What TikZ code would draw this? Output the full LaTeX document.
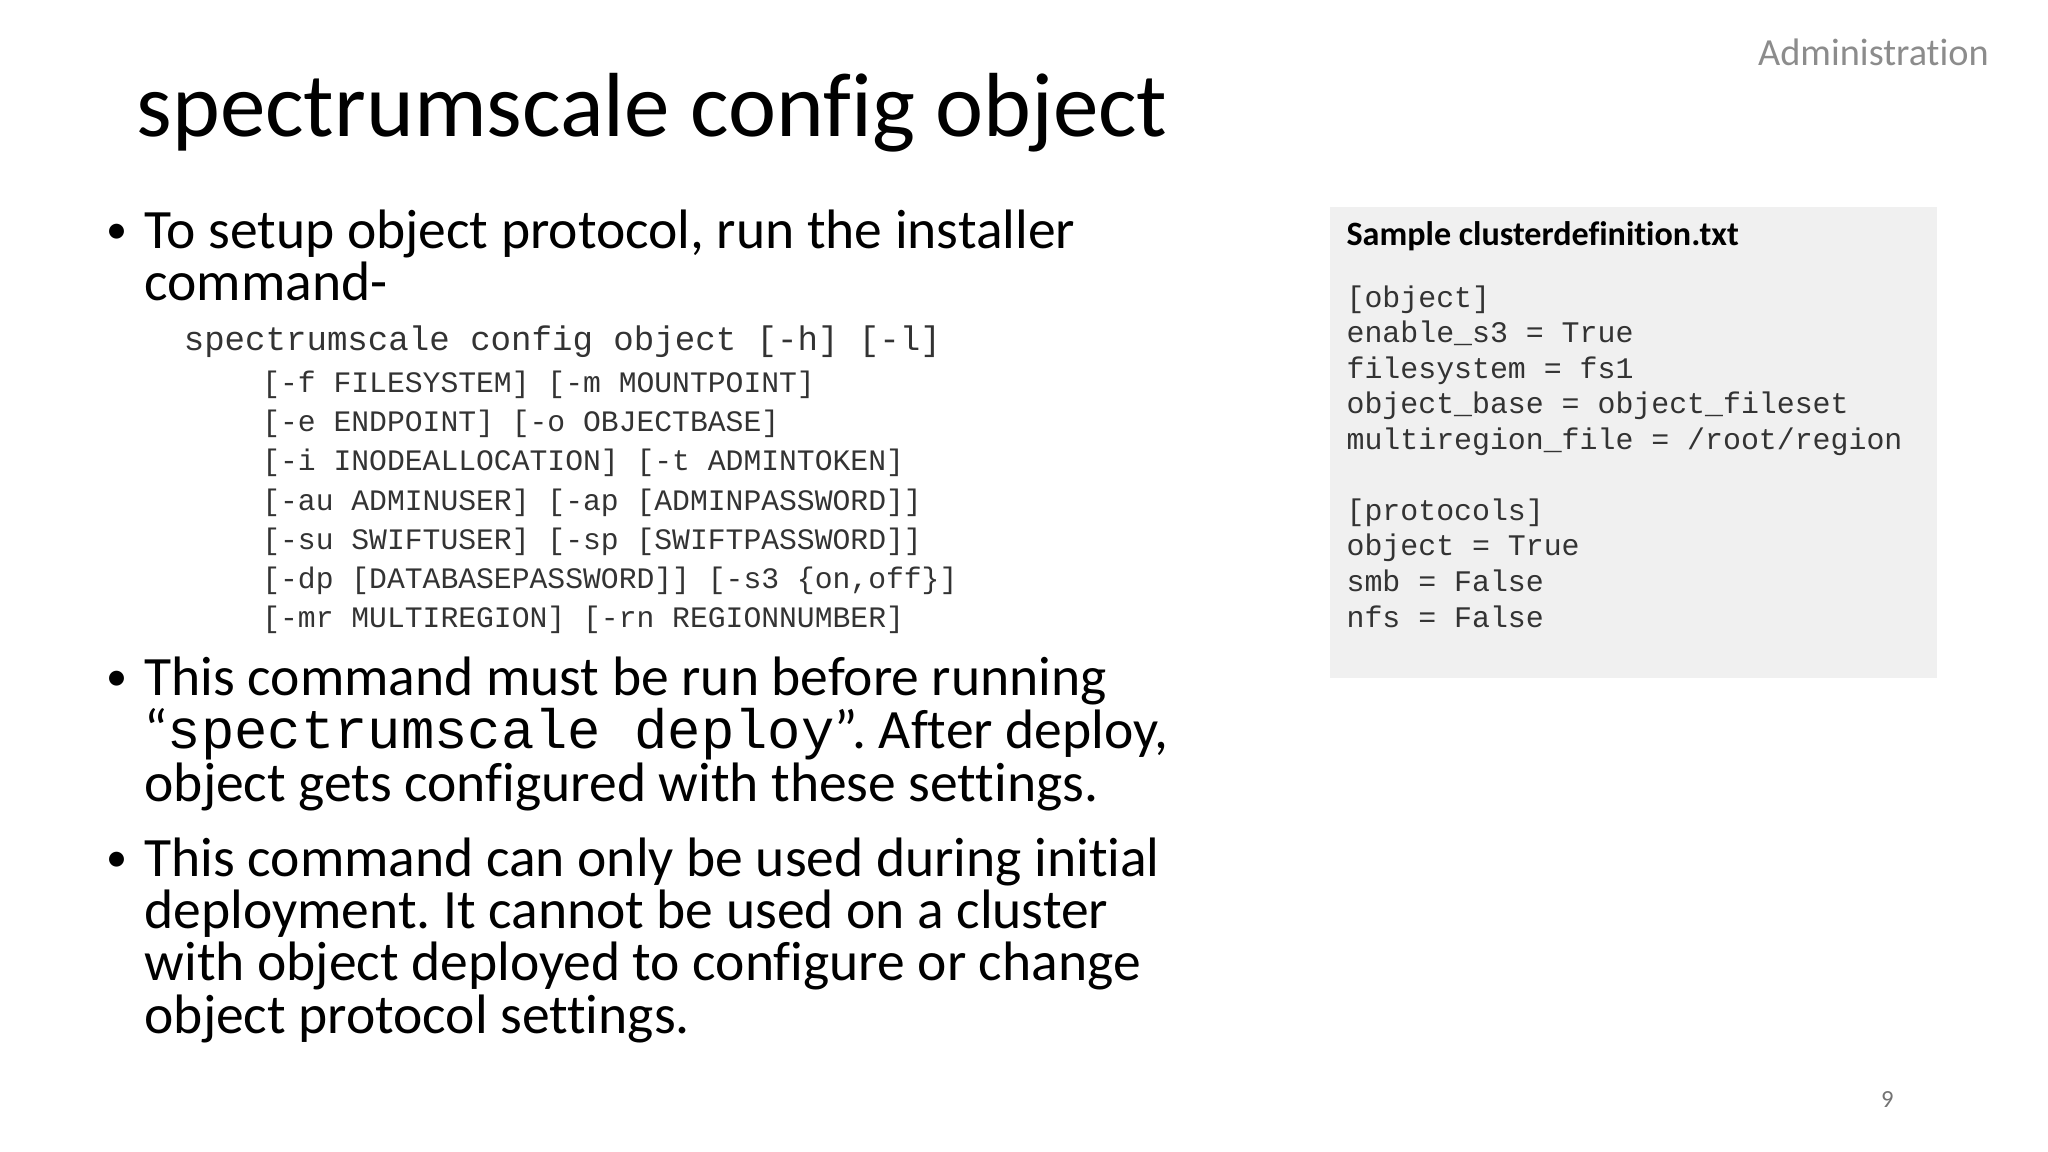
\documentclass[tikz,border=0pt]{standalone}
\usepackage{fontspec}
\setmainfont{Carlito}[RawFeature={-liga}]
\setmonofont{Liberation Mono}
\frenchspacing
\begin{document}
\begin{tikzpicture}[x=0.01308cm,y=-0.01308cm,
  body/.style={anchor=base west,inner sep=0pt,font=\fontsize{15.8pt}{18pt}\selectfont},
  code/.style={anchor=base west,inner sep=0pt,font=\fontsize{8.45pt}{10pt}\selectfont\ttfamily,text=black!80},
  bcode/.style={anchor=base west,inner sep=0pt,font=\fontsize{8.5pt}{10pt}\selectfont\ttfamily,text=black!80}]
\useasboundingbox (0,0) rectangle (1565.8,880.7);
\node[anchor=base west,inner sep=0pt,font=\fontsize{25.9pt}{30pt}\selectfont] (title) at (104,104) {spectrumscale con{fi}g object};
\node[anchor=base east,inner sep=0pt,font=\fontsize{10.9pt}{12pt}\selectfont,text=black!45] (adm) at (1521,50) {Administration};
\node[anchor=base,inner sep=0pt,font=\fontsize{7pt}{8pt}\selectfont,text=black!55] (pg) at (1443,847) {9};
% bullets
\foreach \y/\n in {190/b1,532/b2,670/b3} \node[body] (\n) at (81,\y) {\fontsize{12pt}{12pt}\selectfont\raisebox{1.5pt}{•}};
\node[body] (t1) at (110,190) {To setup object protocol, run the installer};
\node[body] (t2) at (110,230) {command-};
\node[code,font=\fontsize{9.7pt}{11pt}\selectfont\ttfamily] (c1) at (140,268) {spectrumscale config object [-h] [-l]};
\node[code] (c2) at (200,300) {[-f FILESYSTEM] [-m MOUNTPOINT]};
\node[code] (c3) at (200,330) {[-e ENDPOINT] [-o OBJECTBASE]};
\node[code] (c4) at (200,360) {[-i INODEALLOCATION] [-t ADMINTOKEN]};
\node[code] (c5) at (200,390) {[-au ADMINUSER] [-ap [ADMINPASSWORD]]};
\node[code] (c6) at (200,420) {[-su SWIFTUSER] [-sp [SWIFTPASSWORD]]};
\node[code] (c7) at (200,450) {[-dp [DATABASEPASSWORD]] [-s3 \{on,off\}]};
\node[code] (c8) at (200,480) {[-mr MULTIREGION] [-rn REGIONNUMBER]};
\node[body] (t3) at (110,532) {This command must be run before running};
\node[body] (t4) at (110,572) {“{\fontsize{15.8pt}{16pt}\selectfont\ttfamily spectrumscale deploy}”. After deploy,};
\node[body] (t5) at (110,613) {object gets configured with these settings.};
\node[body] (t6) at (110,670) {This command can only be used during initial};
\node[body] (t7) at (110,710) {deployment. It cannot be used on a cluster};
\node[body] (t8) at (110,750) {with object deployed to configure or change};
\node[body] (t9) at (110,790) {object protocol settings.};
% box
\fill[black!6] (1017,158) rectangle (1481,518);
\node[anchor=base west,inner sep=0pt,font=\fontsize{9.7pt}{11pt}\selectfont\bfseries] (bh) at (1029,188) {Sample clusterde{fi}nition.txt};
\foreach \y/\t [count=\i] in {235/{[object]},262/{enable\_s3 = True},289/{filesystem = fs1},316/{object\_base = object\_fileset},344/{multiregion\_file = /root/region},398/{[protocols]},425/{object = True},452/{smb = False},480/{nfs = False}}
  \node[bcode] (k\i) at (1029,\y) {\t};
\end{tikzpicture}
\end{document}
